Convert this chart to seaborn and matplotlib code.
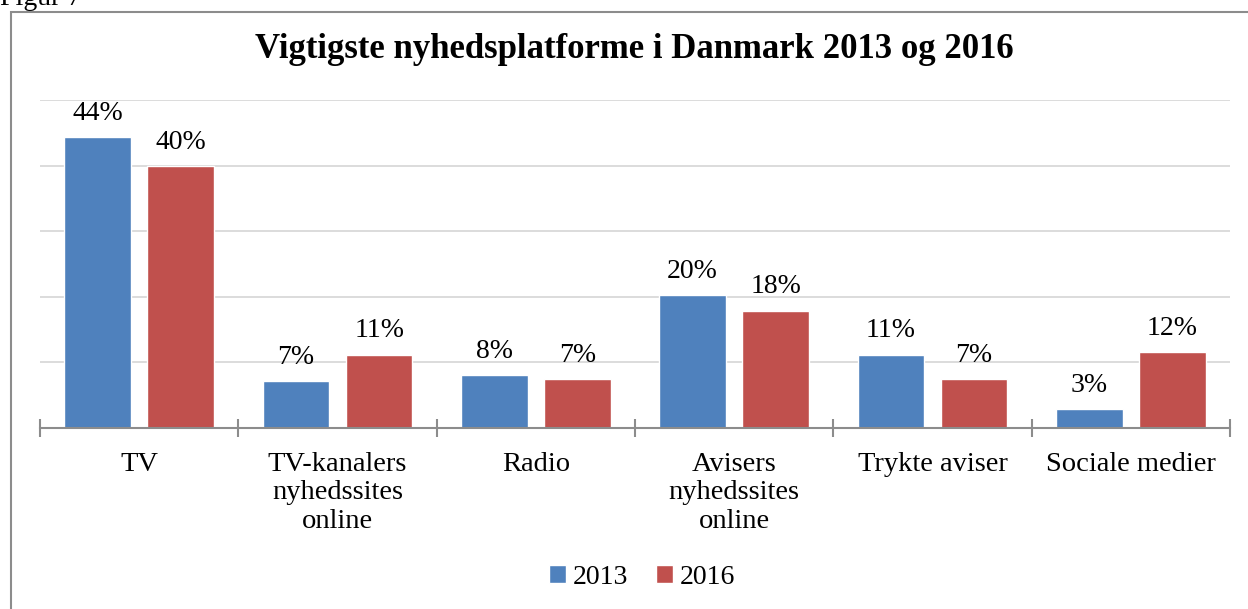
import matplotlib
matplotlib.use("Agg")
import matplotlib.pyplot as plt
import seaborn as sns
import pandas as pd
from matplotlib.patches import Rectangle

# ── Data ─────────────────────────────────────────────────────────────────────
categories = ["TV", "TV-kanalers\nnyhedssites\nonline", "Radio",
              "Avisers\nnyhedssites\nonline", "Trykte aviser", "Sociale medier"]
years = ["2013", "2016"]
values_2013 = [44.3, 7.1, 8.1, 20.2, 11.2, 2.9]
values_2016 = [39.9, 11.2, 7.4, 17.9, 7.4, 11.6]
colors = ["#4F81BD", "#C0504D"]

df = pd.DataFrame({
    "platform": categories * 2,
    "year": [years[0]] * len(categories) + [years[1]] * len(categories),
    "share": values_2013 + values_2016,
})

# ── Style ────────────────────────────────────────────────────────────────────
sns.set_theme(style="white")
plt.rcParams["font.family"] = ["Liberation Serif", "DejaVu Serif"]
plt.rcParams["text.color"] = "black"
plt.rcParams["xtick.color"] = "black"

fig = plt.figure(figsize=(12.48, 6.09), dpi=100)
ax = fig.add_axes([40 / 1248, 1 - 428 / 609, 1190 / 1248, 328 / 609])

sns.barplot(data=df, x="platform", y="share", hue="year", palette=colors,
            width=0.84, gap=0.2, ax=ax, legend=True, saturation=1)

for cont in ax.containers:
    ax.bar_label(cont, labels=[f"{v:.0f}%" for v in cont.datavalues],
                 padding=8, fontsize=20, color="black")

ax.set_ylim(0, 50)
ax.set_xlim(-0.5, len(categories) - 0.5)
ax.set_yticks(range(0, 51, 10))
ax.set_yticklabels([])
ax.yaxis.grid(True, color="#d9d9d9", linewidth=1.3)
ax.set_axisbelow(True)
ax.tick_params(axis="y", length=0)

# category boundary ticks
ax.set_xticks([i - 0.5 for i in range(len(categories) + 1)], minor=True)
ax.tick_params(axis="x", which="minor", bottom=True, direction="inout",
               length=13, width=1.5, color="#8c8c8c")
ax.tick_params(axis="x", which="major", length=0, pad=17, labelsize=20.5,
               labelcolor="black")
for lbl in ax.get_xticklabels():
    lbl.set_verticalalignment("top")
    lbl.set_linespacing(1.2)

for side in ["top", "right", "left"]:
    ax.spines[side].set_visible(False)
ax.spines["bottom"].set_color("#8c8c8c")
ax.spines["bottom"].set_linewidth(1.5)
ax.set_xlabel("")
ax.set_ylabel("")

leg = ax.legend(loc="center", bbox_to_anchor=(0.506, -0.455), ncol=2,
                frameon=False, fontsize=20, handlelength=0.6, handleheight=0.6,
                handletextpad=0.25, columnspacing=1.0)
for t in leg.get_texts():
    t.set_color("black")

fig.text(0.508, 1 - 50 / 609, "Vigtigste nyhedsplatforme i Danmark 2013 og 2016",
         ha="center", va="center", fontsize=25, fontweight="bold")
fig.text(0.0, 1 - 5 / 609, "Figur 7", ha="left", va="baseline", fontsize=20)

# outer chart frame
fig.patches.append(Rectangle((11 / 1248, -0.1), 1.2, 1 - 12 / 609 + 0.1,
                             transform=fig.transFigure, fill=False,
                             edgecolor="#8c8c8c", linewidth=1.5))

fig.savefig("out.png", dpi=100)
plt.close()
